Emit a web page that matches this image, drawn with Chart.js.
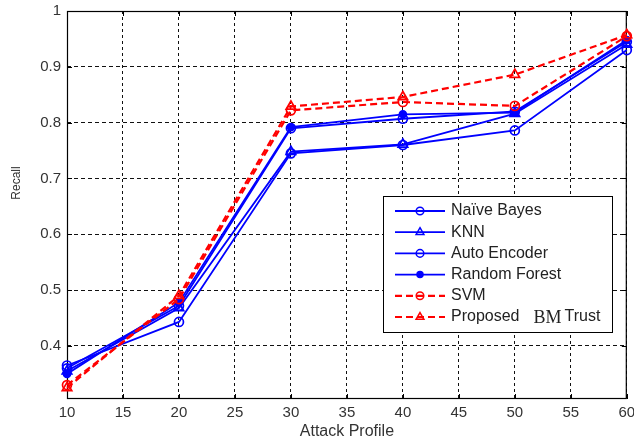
<!DOCTYPE html>
<html>
<head>
<meta charset="utf-8">
<script src="https://cdn.jsdelivr.net/npm/chart.js@4.4.1/dist/chart.umd.min.js"></script>
<style>
  html, body { margin: 0; padding: 0; background: #fff; }
  #wrap { width: 634px; height: 444px; }
</style>
</head>
<body>
<div id="wrap"><canvas id="chart" width="634" height="444"></canvas></div>
<script>
// values
const attackProfiles = [10, 20, 30, 40, 50, 60];
const naiveBayes   = [0.365, 0.443, 0.745, 0.760, 0.786, 0.930];
const knn          = [0.355, 0.468, 0.748, 0.761, 0.816, 0.940];
const autoEncoder  = [0.360, 0.472, 0.790, 0.807, 0.820, 0.945];
const randomForest = [0.350, 0.478, 0.792, 0.815, 0.818, 0.948];
const svm          = [0.330, 0.484, 0.822, 0.837, 0.830, 0.955];
const bmTrust      = [0.325, 0.490, 0.829, 0.846, 0.886, 0.957];

const xTicks = [10, 15, 20, 25, 30, 35, 40, 45, 50, 55, 60];
const yTicks = [0.4, 0.5, 0.6, 0.7, 0.8, 0.9, 1];

const BLUE = '#0000ff';
const RED = '#ff0000';
const FONT = "'Liberation Sans', Arial, sans-serif";

function points(values) {
    return attackProfiles.map((x, i) => ({ x: x, y: values[i] }));
}

function series(label, values, color, style, filled, dashed, order) {
    return {
        label: label,
        data: points(values),
        borderColor: color,
        backgroundColor: color,
        borderWidth: dashed ? 2.2 : 1.8,
        borderDash: dashed ? [7, 4] : [],
        pointStyle: style,
        pointRadius: style === 'triangle' ? 5.5 : 4.5,
        pointBorderWidth: 1.7,
        pointBorderColor: color,
        pointBackgroundColor: filled ? color : 'rgba(0,0,0,0)',
        tension: 0,
        fill: false,
        clip: false,
        order: order
    };
}

const datasets = [
    series('Naïve Bayes', naiveBayes, BLUE, 'circle', false, false, 5),
    series('KNN', knn, BLUE, 'triangle', false, false, 4),
    series('Auto Encoder', autoEncoder, BLUE, 'circle', false, false, 3),
    series('Random Forest', randomForest, BLUE, 'circle', true, false, 2),
    series('SVM', svm, RED, 'circle', false, true, 1),
    series('Proposed BMTrust', bmTrust, RED, 'triangle', false, true, 0)
];
datasets[3].pointRadius = 3.5;

// box, inner tick marks, y title and legend (MATLAB style)
const frame = {
    id: 'frame',
    beforeDatasetsDraw(chart) {
        const { ctx, chartArea: a, scales: { x, y } } = chart;
        ctx.save();
        ctx.strokeStyle = '#000';
        ctx.lineWidth = 1.2;
        ctx.setLineDash([]);
        ctx.strokeRect(a.left + 0.5, a.top + 0.5, a.right - a.left - 1, a.bottom - a.top - 1);
        ctx.lineWidth = 1;
        ctx.beginPath();
        xTicks.forEach(v => {
            const px = Math.round(x.getPixelForValue(v)) + 0.5;
            ctx.moveTo(px, a.bottom); ctx.lineTo(px, a.bottom - 5);
            ctx.moveTo(px, a.top); ctx.lineTo(px, a.top + 5);
        });
        yTicks.forEach(v => {
            const py = Math.round(y.getPixelForValue(v)) + 0.5;
            ctx.moveTo(a.left, py); ctx.lineTo(a.left + 5, py);
            ctx.moveTo(a.right, py); ctx.lineTo(a.right - 5, py);
        });
        ctx.stroke();
        ctx.restore();
    },
    afterDraw(chart) {
        const ctx = chart.ctx;
        ctx.save();
        // y axis title
        ctx.translate(17, 183);
        ctx.rotate(-Math.PI / 2);
        ctx.fillStyle = '#333';
        ctx.font = '12px ' + FONT;
        ctx.textAlign = 'center';
        ctx.textBaseline = 'middle';
        ctx.fillText('Recall', 0, 0);
        ctx.restore();

        // legend box
        const box = { left: 383, top: 196, right: 612, bottom: 332 };
        ctx.save();
        ctx.fillStyle = '#fff';
        ctx.fillRect(box.left, box.top, box.right - box.left, box.bottom - box.top);
        ctx.strokeStyle = '#000';
        ctx.lineWidth = 1;
        ctx.strokeRect(box.left + 0.5, box.top + 0.5, box.right - box.left, box.bottom - box.top);

        chart.data.datasets.forEach((ds, i) => {
            const ry = 211 + i * 21.2;
            ctx.strokeStyle = ds.borderColor;
            ctx.lineWidth = ds.borderWidth;
            ctx.setLineDash(ds.borderDash);
            ctx.beginPath();
            ctx.moveTo(395, ry);
            ctx.lineTo(445, ry);
            ctx.stroke();
            ctx.setLineDash([]);
            ctx.fillStyle = ds.pointBackgroundColor;
            ctx.strokeStyle = ds.pointBorderColor;
            ctx.lineWidth = 1.5;
            Chart.helpers.drawPoint(ctx, {
                pointStyle: ds.pointStyle,
                radius: ds.pointStyle === 'triangle' ? 4.5 : (ds.pointRadius < 4 ? 3 : 3.8),
                rotation: 0,
                borderWidth: 1.5
            }, 420, ry);

            ctx.fillStyle = '#222';
            ctx.textBaseline = 'middle';
            ctx.textAlign = 'left';
            ctx.font = '16px ' + FONT;
            if (ds.label.indexOf('BM') >= 0) {
                const parts = ds.label.split('BM');
                const first = parts[0].trim();
                ctx.fillText(first, 451, ry);
                let tx = 451 + ctx.measureText(first).width + 14;
                ctx.font = "18px 'Liberation Serif', 'Times New Roman', serif";
                ctx.fillText('BM', tx, ry + 1);
                tx += ctx.measureText('BM').width + 3;
                ctx.font = '16px ' + FONT;
                ctx.fillText(parts[1], tx, ry);
            } else {
                ctx.fillText(ds.label, 451, ry);
            }
        });
        ctx.restore();
    }
};

new Chart(document.getElementById('chart'), {
    type: 'line',
    data: { datasets: datasets },
    options: {
        responsive: false,
        animation: false,
        devicePixelRatio: 1,
        layout: { padding: { left: 0, right: 4, top: 11, bottom: 0 } },
        plugins: {
            legend: { display: false },
            tooltip: { enabled: false }
        },
        scales: {
            x: {
                type: 'linear',
                min: 10,
                max: 60,
                afterBuildTicks: scale => { scale.ticks = xTicks.map(v => ({ value: v })); },
                afterFit: scale => {
                    scale.height = 45;
                    scale.paddingLeft = 0;
                    scale.paddingRight = 0;
                },
                grid: {
                    color: '#111',
                    lineWidth: 1,
                    drawTicks: false
                },
                border: { display: false, dash: [3, 3] },
                ticks: {
                    color: '#333',
                    font: { family: FONT, size: 15 },
                    padding: 5,
                    maxRotation: 0,
                    callback: v => String(v)
                },
                title: {
                    display: true,
                    text: 'Attack Profile',
                    color: '#333',
                    font: { family: FONT, size: 16 },
                    padding: { top: 0, bottom: 3 }
                }
            },
            y: {
                type: 'linear',
                min: 0.305,
                max: 1,
                afterBuildTicks: scale => { scale.ticks = yTicks.map(v => ({ value: v })); },
                afterFit: scale => {
                    scale.width = 67;
                    scale.paddingTop = 0;
                    scale.paddingBottom = 0;
                },
                grid: {
                    color: '#111',
                    lineWidth: 1,
                    drawTicks: false
                },
                border: { display: false, dash: [4, 3] },
                ticks: {
                    color: '#333',
                    font: { family: FONT, size: 15 },
                    padding: 6,
                    callback: v => String(v)
                }
            }
        }
    },
    plugins: [frame]
});
</script>
</body>
</html>
